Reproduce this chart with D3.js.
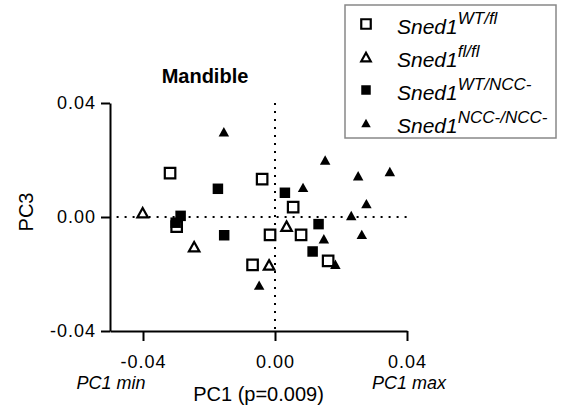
<!DOCTYPE html>
<html>
<head>
<meta charset="utf-8">
<script src="https://cdn.jsdelivr.net/npm/d3@7"></script>
<style>
  body { margin: 0; background: #fff; }
  svg { font-family: "Liberation Sans", Arial, Helvetica, sans-serif; }
</style>
</head>
<body>
<svg id="chart"></svg>
<script>
// PCA Mandible, PC1 vs PC3
var width = 561, height = 415;

// series (genotypes)
const groups = ["WT/fl", "fl/fl", "WT/NCC-", "NCC-/NCC-"];
const shapes = ["square", "triangle", "square", "triangle"];
const filled = [false, false, true, true];

// points [PC1, PC3]
const wtfl = [[-0.0318, 0.0154], [-0.0039, 0.0133], [-0.0298, -0.0034], [-0.0015, -0.0063],
              [0.0055, 0.0035], [0.0079, -0.0063], [-0.0068, -0.0168], [0.0161, -0.0154]];
const flfl = [[-0.0401, 0.0015], [-0.0245, -0.0104], [0.0035, -0.0032], [-0.0018, -0.0168]];
const wtncc = [[-0.0173, 0.0099], [0.0030, 0.0085], [-0.0286, 0.0004], [-0.0301, -0.0020],
               [-0.0154, -0.0064], [0.0132, -0.0025], [0.0114, -0.0121]];
const nccncc = [[-0.0155, 0.0299], [0.0152, 0.0200], [0.0252, 0.0145], [0.0348, 0.0160],
                [0.0085, 0.0104], [0.0277, 0.0047], [0.0231, 0.0005], [0.0148, -0.0076],
                [0.0263, -0.0061], [0.0183, -0.0166], [-0.0048, -0.0239]];
const series = [wtfl, flfl, wtncc, nccncc];

const xTicks = [-0.04, 0, 0.04];
const yTicks = [-0.04, 0, 0.04];
const tickLabels = ["-0.04", "0.00", "0.04"];

const svg = d3.select("#chart")
  .attr("width", width)
  .attr("height", height);

const x = d3.scaleLinear().domain([-0.05, 0.04]).range([110, 407]);
const y = d3.scaleLinear().domain([-0.04, 0.04]).range([331, 103]);

//symbol path, centred on its box
function symPath(shape, s) {
  if (shape == "square") {
    return "M" + (-s/2) + "," + (-s/2) + "h" + s + "v" + s + "h" + (-s) + "Z";
  }
  var h = s * 0.9;
  return "M0," + (-h/2) + "L" + (s/2) + "," + (h/2) + "L" + (-s/2) + "," + (h/2) + "Z";
}

// dotted zero lines
svg.append("line")
  .attr("x1", x(-0.048)).attr("x2", x(0.04))
  .attr("y1", y(0)).attr("y2", y(0))
  .attr("stroke", "#000").attr("stroke-width", 2)
  .attr("stroke-dasharray", "2,6");
svg.append("line")
  .attr("x1", x(0)).attr("x2", x(0))
  .attr("y1", y(0.04)).attr("y2", y(-0.04))
  .attr("stroke", "#000").attr("stroke-width", 2)
  .attr("stroke-dasharray", "2,6");

// axes
const yAxis = svg.append("g")
  .attr("transform", "translate(" + x(-0.05) + ",0)")
  .call(d3.axisLeft(y).tickValues(yTicks).tickSize(9).tickSizeOuter(0)
    .tickFormat((d, i) => tickLabels[i]));
const xAxis = svg.append("g")
  .attr("transform", "translate(0," + y(-0.04) + ")")
  .call(d3.axisBottom(x).tickValues(xTicks).tickSize(10).tickSizeOuter(0)
    .tickFormat((d, i) => tickLabels[i]));

[xAxis, yAxis].forEach(a => {
  a.selectAll("path, line").attr("stroke", "#000").attr("stroke-width", 2);
  a.selectAll("text").attr("font-size", 18).attr("fill", "#000")
    .attr("font-family", "Liberation Sans, Arial, sans-serif")
    .attr("letter-spacing", 1);
});
yAxis.selectAll("text").attr("x", -14);
xAxis.selectAll("text").attr("y", 24);

// points
series.forEach((pts, i) => {
  svg.append("g").selectAll("path")
    .data(pts)
    .enter().append("path")
    .attr("transform", d => "translate(" + x(d[0]) + "," + y(d[1]) + ")")
    .attr("d", symPath(shapes[i], 10.5))
    .attr("fill", filled[i] ? "#000" : "#fff")
    .attr("stroke", filled[i] ? "none" : "#000")
    .attr("stroke-width", 2.2);
});

// texts
svg.append("text")
  .attr("x", 205).attr("y", 83)
  .attr("text-anchor", "middle")
  .attr("font-size", 20).attr("font-weight", "bold")
  .text("Mandible");

svg.append("text")
  .attr("transform", "translate(33,212) rotate(-90)")
  .attr("text-anchor", "middle")
  .attr("font-size", 20)
  .text("PC3");

svg.append("text")
  .attr("x", (x(-0.05) + x(0.04)) / 2).attr("y", 401)
  .attr("text-anchor", "middle")
  .attr("font-size", 20)
  .text("PC1 (p=0.009)");

svg.append("text")
  .attr("x", 111).attr("y", 389)
  .attr("text-anchor", "middle")
  .attr("font-size", 18).attr("font-style", "italic")
  .text("PC1 min");
svg.append("text")
  .attr("x", 409).attr("y", 389)
  .attr("text-anchor", "middle")
  .attr("font-size", 18).attr("font-style", "italic")
  .text("PC1 max");

// legend
const legend = svg.append("g");
legend.append("rect")
  .attr("x", 345).attr("y", 5)
  .attr("width", 211).attr("height", 133)
  .attr("fill", "#fff")
  .attr("stroke", "#888").attr("stroke-width", 1.5);

groups.forEach((g, i) => {
  var cy = 24 + i * 33;
  legend.append("path")
    .attr("transform", "translate(366," + cy + ")")
    .attr("d", symPath(shapes[i], 9.5))
    .attr("fill", filled[i] ? "#000" : "#fff")
    .attr("stroke", filled[i] ? "none" : "#000")
    .attr("stroke-width", 2.2);
  var t = legend.append("text")
    .attr("x", 397).attr("y", cy + 10)
    .attr("font-size", 21).attr("font-style", "italic");
  t.append("tspan").text("Sned1");
  t.append("tspan")
    .attr("dy", -10)
    .attr("font-size", 17)
    .text(g);
});
</script>
</body>
</html>
